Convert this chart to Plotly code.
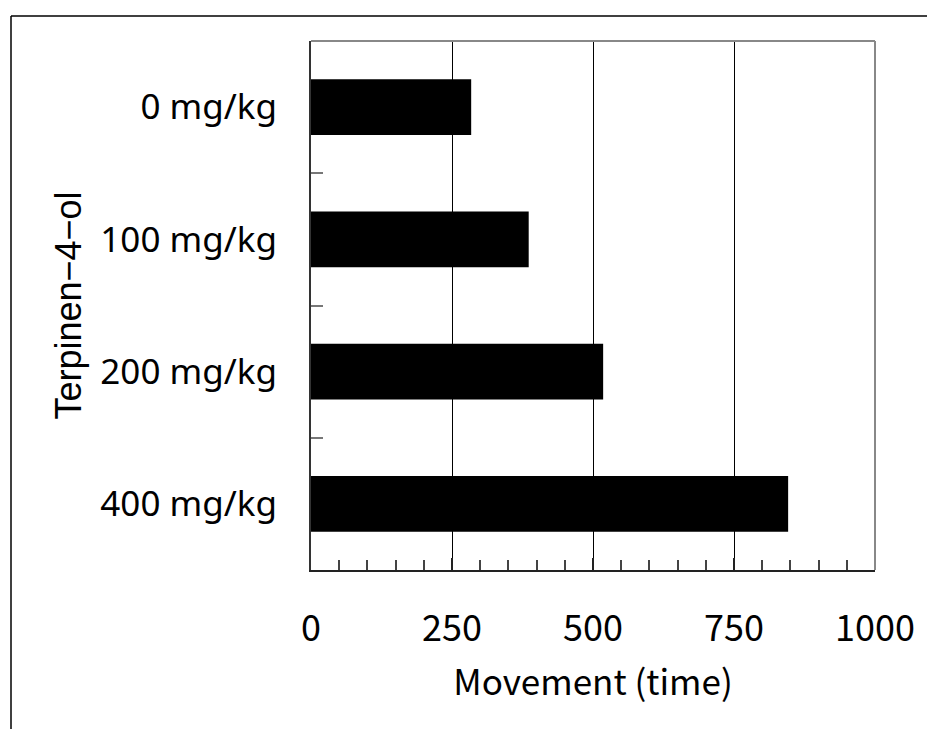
import plotly.graph_objects as go

doses = ["0 mg/kg", "100 mg/kg", "200 mg/kg", "400 mg/kg"]
movement = [284, 386, 518, 846]
x_ticks = [0, 250, 500, 750, 1000]
x_title = "Movement (time)"
y_title = "Terpinen−4−ol"

W, H = 927, 729
PL, PR, PT, PB = 311, 875, 41, 570  # plot area in page pixels
L, T = PL, PT
R, B = W - PR, H - PB
pw, ph = PR - PL, PB - PT

fig = go.Figure(go.Bar(
    x=movement, y=doses, orientation="h",
    marker=dict(color="black", line=dict(width=0)),
    width=0.42,
))

def px_x(p):
    return (p - PL) / pw

def px_y(p):
    return (PB - p) / ph

shapes = [
    # outer frame (left and top)
    dict(type="line", xref="paper", yref="paper", x0=px_x(11), x1=px_x(11),
         y0=px_y(16), y1=px_y(760), line=dict(color="black", width=1.5)),
    dict(type="line", xref="paper", yref="paper", x0=px_x(11), x1=px_x(960),
         y0=px_y(16), y1=px_y(16), line=dict(color="black", width=1.5)),
    # top and right plot border (gray)
    dict(type="line", xref="paper", yref="paper", x0=0, x1=1, y0=1, y1=1,
         line=dict(color="#888888", width=2)),
    dict(type="line", xref="paper", yref="paper", x0=1, x1=1, y0=0, y1=1,
         line=dict(color="#888888", width=2)),
]

fig.update_layout(
    width=W, height=H,
    margin=dict(l=L, r=R, t=T, b=B, pad=0, autoexpand=False),
    paper_bgcolor="white", plot_bgcolor="white",
    showlegend=False,
    shapes=shapes,
    xaxis=dict(
        automargin=False,
        range=[0, 1000], tickvals=x_ticks, ticktext=[str(v) for v in x_ticks],
        showgrid=True, gridcolor="black", gridwidth=1,
        showline=True, linecolor="#222222", linewidth=2,
        ticks="inside", ticklen=12, tickcolor="#222222", tickwidth=1.5,
        minor=dict(dtick=50, ticks="inside", ticklen=10, tickcolor="#444444",
                   tickwidth=1.5, showgrid=False),
        tickfont=dict(family="Noto Sans CJK JP", size=36, color="black"),
        ticklabelstandoff=26,
        zeroline=False,
        title=dict(text=x_title, standoff=20,
                   font=dict(family="Noto Sans CJK JP", size=35, color="black")),
    ),
    yaxis=dict(
        automargin=False,
        categoryorder="array", categoryarray=doses, autorange="reversed",
        showline=True, linecolor="#333333", linewidth=2,
        ticks="inside", tickson="boundaries", ticklen=12, tickcolor="#777777",
        tickwidth=1.5, showgrid=False,
        tickfont=dict(family="Noto Sans", size=35, color="black"),
        ticklabelstandoff=25,
        title=dict(text=y_title, standoff=8,
                   font=dict(family="Liberation Sans", size=36, color="black")),
    ),
)

fig.write_html(
    "out.html",
    config={"displayModeBar": False},
    post_script="document.body.style.margin='0';document.body.style.overflow='hidden';",
)
